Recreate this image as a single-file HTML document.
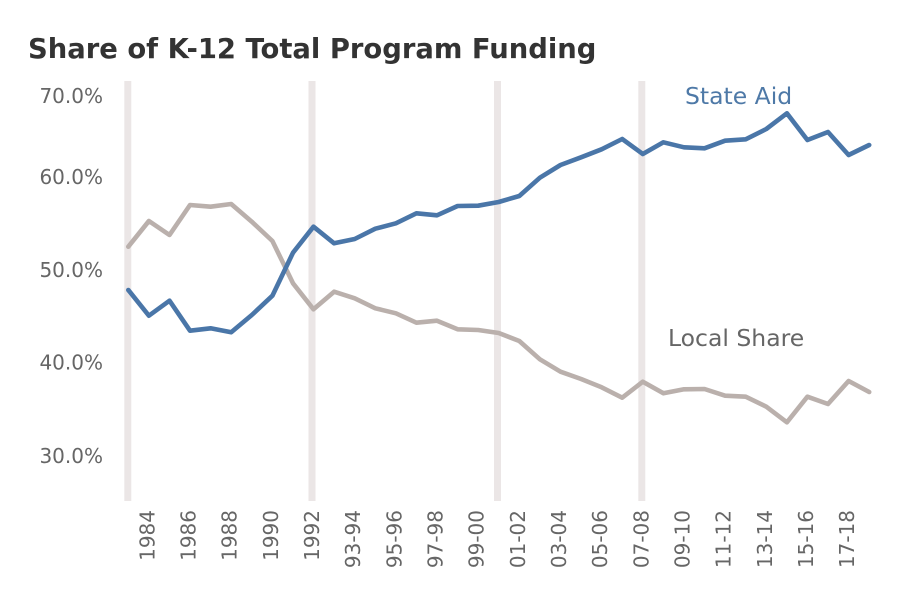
<!DOCTYPE html>
<html>
<head>
<meta charset="utf-8">
<style>
  html, body { margin: 0; padding: 0; background: #ffffff; }
  svg { display: block; }
  text { font-family: "DejaVu Sans", "Liberation Sans", sans-serif; }
</style>
</head>
<body>
<svg width="900" height="593" viewBox="0 0 900 593" xmlns="http://www.w3.org/2000/svg">
  <rect x="0" y="0" width="900" height="593" fill="#ffffff"/>

  <!-- Title -->
  <text x="28" y="58" font-size="27.4" font-weight="bold" fill="#333333">Share of K-12 Total Program Funding</text>

  <!-- vertical bands -->
  <g fill="#ebe6e6">
    <rect x="124.3" y="81" width="7" height="420"/>
    <rect x="308.5" y="81" width="7" height="420"/>
    <rect x="494" y="81" width="7" height="420"/>
    <rect x="638.3" y="81" width="7" height="420"/>
  </g>

  <!-- y labels -->
  <g font-size="20" fill="#666666" text-anchor="end">
    <text x="103" y="103">70.0%</text>
    <text x="103" y="184">60.0%</text>
    <text x="103" y="277">50.0%</text>
    <text x="103" y="369.5">40.0%</text>
    <text x="103" y="463">30.0%</text>
  </g>

  <!-- Local share line -->
  <polyline fill="none" stroke="#bab0ac" stroke-width="4.6" stroke-linejoin="round" stroke-linecap="round"
    points="128.3,246.7 148.9,221 169.5,235 190.0,205 210.6,206.7 231.2,204 251.8,221.7 272.4,241 293.0,283.3 313.5,309.3 334.1,291.7 354.7,298.3 375.3,308.3 395.9,313.3 416.4,322.7 437.0,320.7 457.6,329.3 478.2,330 498.7,333 519.3,341 539.9,359.3 560.5,371.7 581.1,379 601.6,387.3 622.2,397.7 642.8,381.7 663.4,393.3 684.0,389.3 704.5,389 725.1,395.7 745.7,396.7 766.3,406.7 786.9,422.3 807.4,396.7 828.0,404 848.6,381 869.2,392"/>

  <!-- State aid line -->
  <polyline fill="none" stroke="#4a76a8" stroke-width="4.6" stroke-linejoin="round" stroke-linecap="round"
    points="128.3,290 148.9,315.7 169.5,300.7 190.0,330.7 210.6,328.3 231.2,332.3 251.8,315 272.4,295.7 293.0,252.7 313.5,226.7 334.1,243.3 354.7,239 375.3,228.7 395.9,223.3 416.4,213.3 437.0,215.3 457.6,206 478.2,205.7 498.7,202 519.3,196 539.9,177.7 560.5,165 581.1,157.3 601.6,149.3 622.2,139 642.8,154 663.4,142.3 684.0,147.3 704.5,148.3 725.1,140.7 745.7,139.3 766.3,129 786.9,113.3 807.4,140 828.0,132 848.6,155 869.2,145"/>

  <!-- Annotations -->
  <text x="685" y="104" font-size="23.5" fill="#4e79a7">State Aid</text>
  <text x="668" y="346" font-size="23.5" fill="#666666">Local Share</text>

  <!-- x labels -->
  <g font-size="20" fill="#666666" text-anchor="end">
    <text transform="translate(154.4,510) rotate(-90)">1984</text>
    <text transform="translate(195.5,510) rotate(-90)">1986</text>
    <text transform="translate(236.7,510) rotate(-90)">1988</text>
    <text transform="translate(277.9,510) rotate(-90)">1990</text>
    <text transform="translate(319.0,510) rotate(-90)">1992</text>
    <text transform="translate(360.2,510) rotate(-90)">93-94</text>
    <text transform="translate(401.4,510) rotate(-90)">95-96</text>
    <text transform="translate(442.5,510) rotate(-90)">97-98</text>
    <text transform="translate(483.7,510) rotate(-90)">99-00</text>
    <text transform="translate(524.8,510) rotate(-90)">01-02</text>
    <text transform="translate(566.0,510) rotate(-90)">03-04</text>
    <text transform="translate(607.1,510) rotate(-90)">05-06</text>
    <text transform="translate(648.3,510) rotate(-90)">07-08</text>
    <text transform="translate(689.5,510) rotate(-90)">09-10</text>
    <text transform="translate(730.6,510) rotate(-90)">11-12</text>
    <text transform="translate(771.8,510) rotate(-90)">13-14</text>
    <text transform="translate(812.9,510) rotate(-90)">15-16</text>
    <text transform="translate(854.1,510) rotate(-90)">17-18</text>
  </g>
</svg>
</body>
</html>
